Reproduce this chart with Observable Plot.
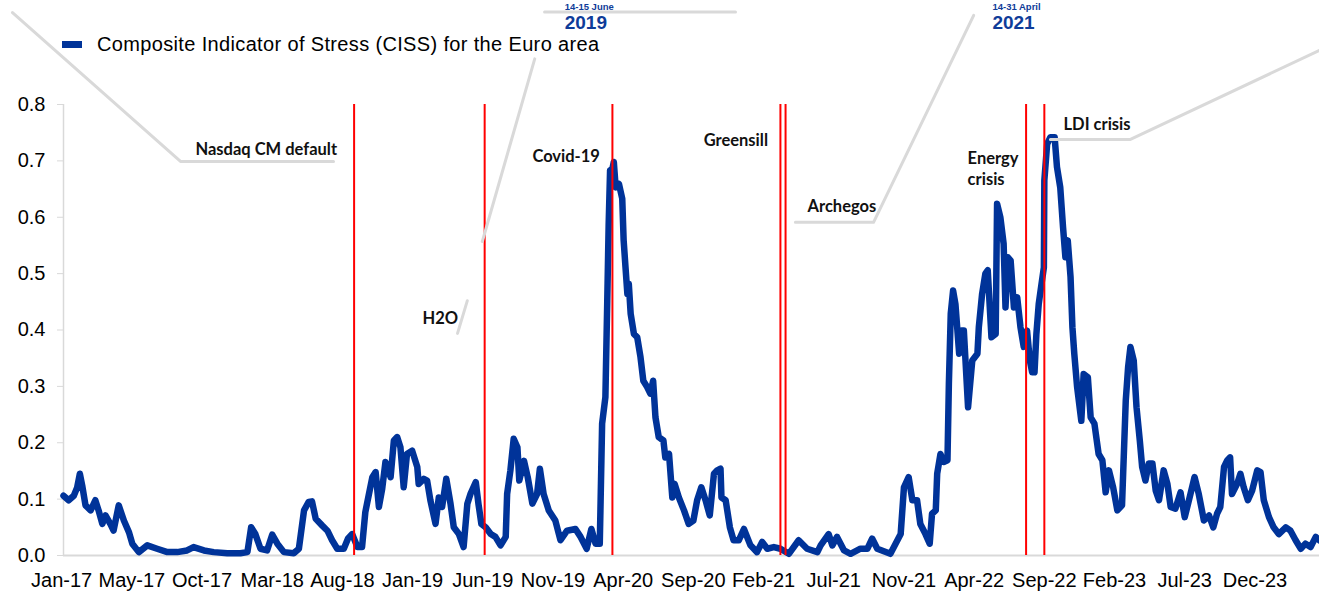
<!DOCTYPE html>
<html><head><meta charset="utf-8">
<script src="https://cdn.jsdelivr.net/npm/d3@7"></script>
<script src="https://cdn.jsdelivr.net/npm/@observablehq/plot@0.6"></script>
<style>
body{margin:0;background:#fff;}
#wrap{position:relative;width:1319px;height:593px;overflow:hidden;background:#fff;}
#legend{position:absolute;left:62px;top:34px;height:20px;line-height:20px;font:20px/20px "Liberation Sans",Arial,sans-serif;letter-spacing:0.35px;color:#000;display:flex;align-items:center;white-space:nowrap;}
#legend .sw{display:inline-block;width:20px;height:7px;background:#003399;margin-right:15px;}
</style></head>
<body><div id="wrap"><div id="chart"></div><div id="legend"><span class="sw"></span><span id="legtext"></span></div></div>
<script>
// ---- data (days since 2 Jan 2017, CISS value) ----
const startDate = new Date(Date.UTC(2017, 0, 2));
const endDay = 2684;
const seriesName = "Composite Indicator of Stress (CISS) for the Euro area";
const dayOffset = [0,11,22,29,35,40,47,58,68,75,83,90,100,107,118,129,140,147,161,179,200,222,243,264,278,300,321,350,378,393,401,410,421,435,446,457,471,492,503,514,524,531,539,553,564,574,585,599,608,617,628,638,645,652,660,667,674,681,688,699,706,713,720,727,734,745,756,759,770,777,784,795,802,809,818,827,834,845,855,863,870,881,887,893,
902,913,923,934,945,948,955,962,970,974,984,992,1002,1012,1018,1026,1037,1051,1062,1076,1094,1105,1118,1128,1137,1146,1151,1158,1162,1165,1168,1173,1176,1180,1187,1194,1197,1201,1205,1208,1212,1219,1226,1233,1239,1247,1254,1260,1265,1272,1282,1286,1294,1301,1306,1315,1326,1336,1346,1354,1363,1372,1381,1390,1397,1404,1406,1415,1424,1432,1443,1454,1468,1482,1493,1504,1518,1532,1550,1571,1589,1611,1618,1635,1643,1653,1668,1682,1703,1718,1728,1739,1767,
1789,1796,1806,1814,1824,1831,1842,1851,1856,1864,1867,1874,1881,1889,1892,1896,1901,1906,1914,1919,1924,1933,1942,1953,1956,1963,1970,1975,1983,1992,1995,2002,2009,2013,2018,2024,2031,2038,2045,2052,2059,2065,2070,2075,2079,2084,2089,2095,2096,2102,2109,2118,2123,2130,2136,2141,2146,2152,2156,2160,2166,2175,2180,2189,2195,2203,2212,2220,2227,2234,2243,2252,2262,2270,2275,2280,2287,2293,2300,2305,2312,2319,2327,2334,2341,2351,2359,2366,2376,2387,2396,2405,2417,2426,2437,2448,2457,2465,2472,2480,2487,2493,2497,2508,2515,2522,2531,2540,2551,2558,2565,2576,2586,2597,2612,2622,2633,2644,2654,2665,2676,2684];
const ciss = [0.106,0.098,0.106,0.12,0.145,0.124,0.089,0.08,0.098,0.08,0.056,0.071,0.056,0.044,0.089,0.062,0.041,0.021,0.006,0.018,0.012,0.006,0.006,0.009,0.015,0.009,0.006,0.004,0.004,0.006,0.05,0.038,0.012,0.009,0.037,0.021,0.006,0.004,0.012,0.08,0.095,0.096,0.065,0.053,0.044,0.027,0.012,0.012,0.03,0.038,0.015,0.015,0.077,0.106,0.139,0.148,0.086,0.118,0.166,0.139,0.204,0.21,0.192,0.121,0.18,0.186,0.157,0.127,0.136,0.133,0.098,0.056,0.103,0.086,0.136,0.092,0.05,0.038,0.015,0.092,0.11,0.13,0.09,0.056,
0.05,0.038,0.033,0.018,0.033,0.109,0.151,0.207,0.192,0.133,0.168,0.139,0.092,0.109,0.154,0.109,0.08,0.062,0.027,0.044,0.047,0.033,0.012,0.047,0.021,0.021,0.234,0.281,0.452,0.588,0.683,0.686,0.698,0.653,0.659,0.633,0.559,0.511,0.464,0.482,0.429,0.393,0.387,0.352,0.31,0.299,0.287,0.31,0.245,0.21,0.204,0.174,0.18,0.103,0.127,0.103,0.08,0.056,0.062,0.098,0.121,0.098,0.071,0.145,0.151,0.154,0.103,0.098,0.05,0.027,0.027,0.047,0.018,0.006,0.024,0.012,0.015,0.012,0.003,0.027,0.012,0.006,0.018,0.038,0.018,0.033,0.009,0.003,0.012,0.012,0.03,0.012,0.003,
0.038,0.121,0.139,0.098,0.098,0.056,0.038,0.021,0.074,0.08,0.145,0.18,0.166,0.169,0.305,0.429,0.47,0.446,0.358,0.399,0.399,0.263,0.346,0.358,0.405,0.464,0.5,0.506,0.387,0.393,0.624,0.6,0.553,0.44,0.529,0.523,0.44,0.458,0.405,0.37,0.399,0.346,0.325,0.325,0.393,0.446,0.476,0.511,0.665,0.73,0.742,0.742,0.689,0.653,0.582,0.529,0.559,0.494,0.405,0.358,0.299,0.239,0.322,0.316,0.245,0.234,0.18,0.169,0.112,0.151,0.121,0.08,0.089,0.275,0.334,0.37,0.346,0.263,0.204,0.157,0.133,0.163,0.163,0.115,0.098,0.151,0.127,0.086,0.083,0.112,0.068,0.098,0.139,0.109,0.062,0.071,0.05,0.074,0.086,0.157,0.169,0.174,0.109,0.127,0.145,0.121,0.098,0.115,0.151,0.148,0.098,0.068,0.05,0.038,0.05,0.044,0.027,0.012,0.021,0.015,0.033,0.027];

const xTickLabels = ["Jan-17","May-17","Oct-17","Mar-18","Aug-18","Jan-19","Jun-19","Nov-19","Apr-20","Sep-20","Feb-21","Jul-21","Nov-21","Apr-22","Sep-22","Feb-23","Jul-23","Dec-23"];
const yTicks = [0, 0.1, 0.2, 0.3, 0.4, 0.5, 0.6, 0.7, 0.8];

// event markers (red vertical lines), days since start
const eventNames = ["Nasdaq CM default","H2O","Covid-19","Greensill","Archegos","Energy crisis","LDI crisis"];
const eventDays = [621, 900, 1173, 1532, 1543, 2057, 2096];

// event labels: text, day, value (anchor point of label)
const labelTexts = ["Nasdaq CM default","H2O","Covid-19","Greensill","Archegos","Energy","crisis","LDI crisis"];
const labelDays  = [282, 767, 1002, 1368, 1590, 1932, 1932, 2137];
const labelVals  = [0.720, 0.420, 0.707, 0.735, 0.618, 0.703, 0.666, 0.765];

// leader lines (id, day, value)
const leaderIds  = ["a","a","a","b","b","c","c","d","d","d","e","e","e","f","f"];
const leaderDays = [-109,250,577, 842,863, 895,1007, 1564,1731,1945, 2109,2280,2684, 1028,1436];
const leaderVals = [0.963,0.699,0.699, 0.394,0.452, 0.557,0.881, 0.591,0.591,0.958, 0.738,0.738,0.896, 0.964,0.964];

// top annotations (blue)
const topTexts = ["14-15 June","2019","14-31 April","2021"];
const topDays  = [1071, 1071, 1985, 1985];
const topVals  = [0.9734, 0.9445, 0.9734, 0.9445];
const topSizes = [9.5, 19, 9.5, 19];

// ---- build ----
const toDate = d => d3.utcDay.offset(startDate, d);
const series = dayOffset.map((d, i) => ({date: toDate(d), value: ciss[i]}));
const tickDates = xTickLabels.map((_, k) => toDate(k * 150 - 4));
const labelByTime = new Map(tickDates.map((d, i) => [+d, xTickLabels[i]]));
const events = eventDays.map((d, i) => ({name: eventNames[i], date: toDate(d)}));
const labels = labelTexts.map((t, i) => ({text: t, date: toDate(labelDays[i]), value: labelVals[i]}));
const leaders = leaderIds.map((id, i) => ({id, date: toDate(leaderDays[i]), value: leaderVals[i]}));
const tops = topTexts.map((t, i) => ({text: t, date: toDate(topDays[i]), value: topVals[i], size: topSizes[i]}));

document.getElementById("legtext").textContent = seriesName;

const blueFont = '"Liberation Sans", Arial, sans-serif';
const chart = Plot.plot({
  width: 1319,
  height: 593,
  marginLeft: 63,
  marginRight: 0,
  marginTop: 104,
  marginBottom: 38,
  style: {fontFamily: '"Liberation Sans", Arial, sans-serif', fontSize: "20px", background: "#fff", color: "#000"},
  x: {type: "utc", domain: [startDate, toDate(endDay)], label: null},
  y: {domain: [0, 0.8], label: null},
  marks: [
    Plot.ruleY([0], {stroke: "#D9D9D9", strokeWidth: 2}),
    Plot.ruleX([startDate], {y1: 0, y2: 0.8, stroke: "#D9D9D9", strokeWidth: 1.5}),
    Plot.axisY({ticks: yTicks, tickFormat: d3.format(".1f"), tickSize: 6, tickPadding: 12, stroke: "#D9D9D9", fill: "#000", fontSize: 20, label: null}),
    Plot.axisX({ticks: tickDates, tickFormat: d => labelByTime.get(+d), tickSize: 0, tickPadding: 17, fill: "#000", fontSize: 20, label: null}),
    Plot.line(series, {x: "date", y: "value", stroke: "#003399", strokeWidth: 6.5, strokeLinejoin: "round", strokeLinecap: "round"}),
    Plot.ruleX(events, {x: "date", y1: 0, y2: 0.8, stroke: "#FF0000", strokeWidth: 2}),
    Plot.line(leaders, {x: "date", y: "value", z: "id", stroke: "#D9D9D9", strokeWidth: 3}),
    Plot.text(labels, {x: "date", y: "value", text: "text", textAnchor: "start", fontFamily: "Lato", fontWeight: "bold", fontSize: 16.5, fill: "#111"}),
    Plot.text(tops.filter(d => d.size === 19), {x: "date", y: "value", text: "text", textAnchor: "start", fontFamily: blueFont, fontWeight: "bold", fontSize: 19, fill: "#0F3C99"}),
    Plot.text(tops.filter(d => d.size === 9.5), {x: "date", y: "value", text: "text", textAnchor: "start", fontFamily: blueFont, fontWeight: "bold", fontSize: 9.5, fill: "#0F3C99"})
  ]
});
document.getElementById("chart").appendChild(chart);
</script>
</body></html>
